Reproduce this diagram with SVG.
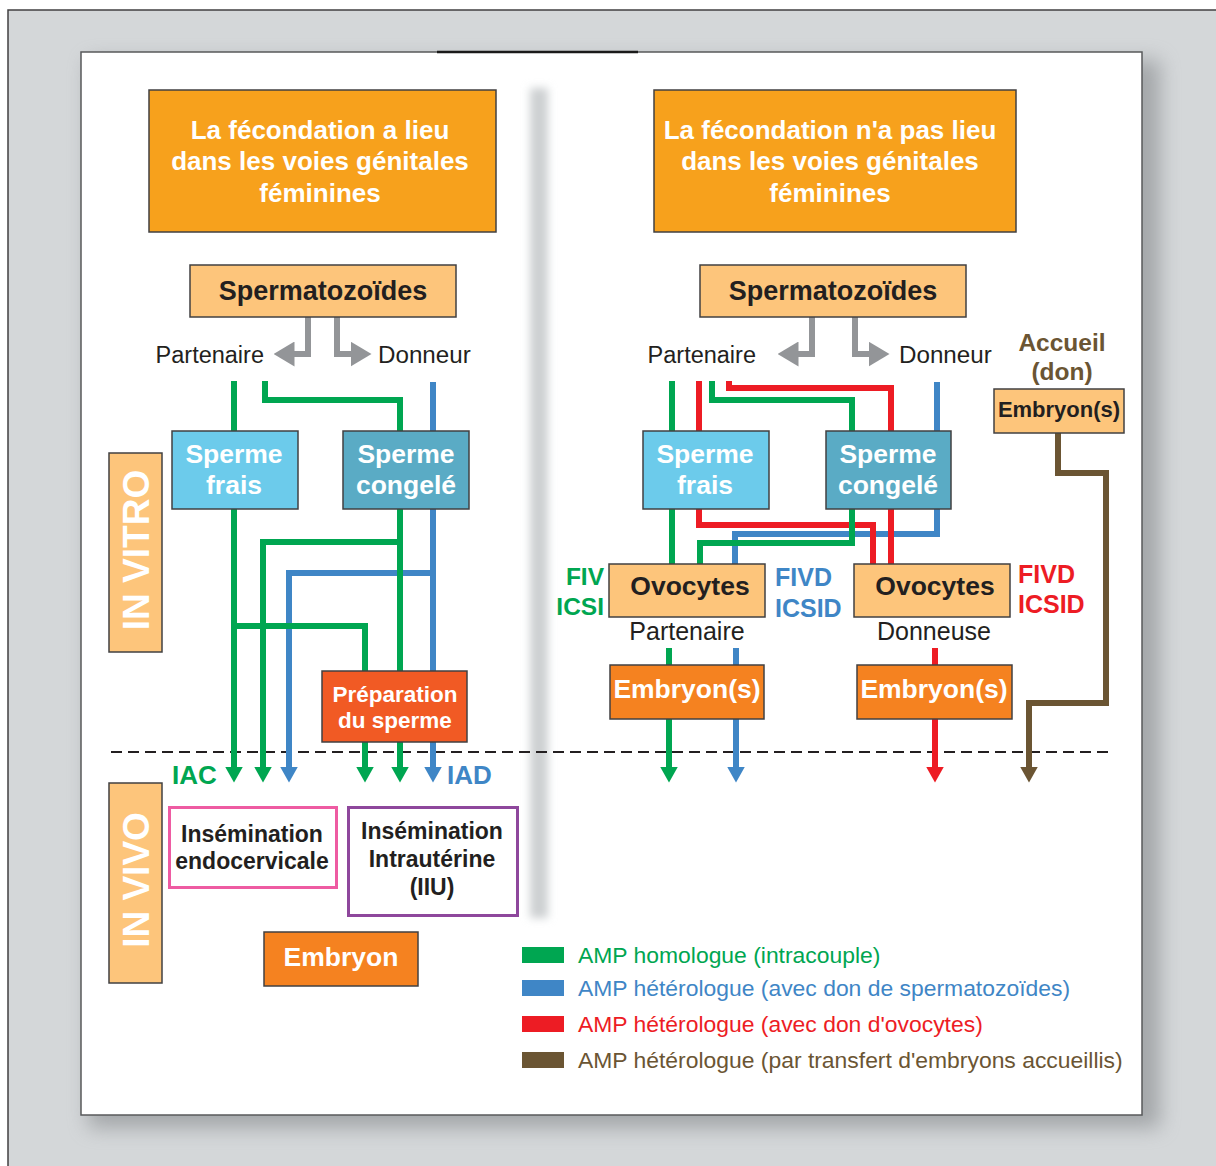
<svg xmlns="http://www.w3.org/2000/svg" width="1216" height="1166" viewBox="0 0 1216 1166">
<defs>
<style>
.t{font-family:"Liberation Sans",Arial,Helvetica,sans-serif}
.b{font-weight:bold}
.w{fill:#ffffff}
.k{fill:#231f20}
.mid{text-anchor:middle}
.end{text-anchor:end}
.box{stroke:#414042;stroke-width:1.5}
.lo{fill:#fdc57b}
.ln{fill:none;stroke-width:6;stroke-linejoin:miter}
.g{stroke:#00a651}
.bl{stroke:#3f86c6}
.r{stroke:#ed1c24}
.br{stroke:#6b5533}
.gy{stroke:#939598}
</style>
<filter id="blur10" x="-10%" y="-10%" width="120%" height="120%"><feGaussianBlur stdDeviation="10"/></filter>
<filter id="blur3" x="-100%" y="-5%" width="300%" height="110%"><feGaussianBlur stdDeviation="4"/></filter>
<marker id="ag" viewBox="0 0 16 18" markerWidth="16" markerHeight="18" refX="0.5" refY="9" orient="auto" markerUnits="userSpaceOnUse"><path d="M0,0 L16,9 L0,18 z" fill="#00a651"/></marker>
<marker id="ab" viewBox="0 0 16 18" markerWidth="16" markerHeight="18" refX="0.5" refY="9" orient="auto" markerUnits="userSpaceOnUse"><path d="M0,0 L16,9 L0,18 z" fill="#3f86c6"/></marker>
<marker id="ar" viewBox="0 0 16 18" markerWidth="16" markerHeight="18" refX="0.5" refY="9" orient="auto" markerUnits="userSpaceOnUse"><path d="M0,0 L16,9 L0,18 z" fill="#ed1c24"/></marker>
<marker id="abr" viewBox="0 0 16 18" markerWidth="16" markerHeight="18" refX="0.5" refY="9" orient="auto" markerUnits="userSpaceOnUse"><path d="M0,0 L16,9 L0,18 z" fill="#6b5533"/></marker>
<marker id="agy" viewBox="0 0 21 25" markerWidth="21" markerHeight="25" refX="0.5" refY="12.5" orient="auto" markerUnits="userSpaceOnUse"><path d="M0,0 L21,12.5 L0,25 z" fill="#939598"/></marker>
</defs>

<!-- background -->
<rect x="8" y="10" width="1220" height="1170" fill="#d4d7d9" stroke="#414042" stroke-width="1.5"/>
<rect x="88" y="60" width="1072" height="1068" fill="#7d8083" opacity="0.55" filter="url(#blur10)"/>
<rect x="81" y="52" width="1061" height="1063" fill="#ffffff" stroke="#58595b" stroke-width="1.5"/>
<line x1="437" y1="52" x2="638" y2="52" stroke="#1a1a1a" stroke-width="2.5"/>
<rect x="530" y="88" width="18" height="830" fill="#cdd0d2" filter="url(#blur3)"/>

<!-- dashed separator in vitro / in vivo -->
<line x1="111" y1="752" x2="1108" y2="752" stroke="#231f20" stroke-width="2" stroke-dasharray="11 6"/>

<g id="connectors">
  <!-- gray split arrows -->
  <path class="ln gy" d="M308,317 V354 H294" marker-end="url(#agy)" stroke-width="5.5"/>
  <path class="ln gy" d="M337,317 V354 H351" marker-end="url(#agy)" stroke-width="5.5"/>
  <path class="ln gy" d="M812,317 V354 H798" marker-end="url(#agy)" stroke-width="5.5"/>
  <path class="ln gy" d="M855,317 V354 H869" marker-end="url(#agy)" stroke-width="5.5"/>

  <!-- left: blue -->
  <path class="ln bl" d="M433,382 V767" marker-end="url(#ab)"/>
  <path class="ln bl" d="M433,573 H289 V767" marker-end="url(#ab)"/>
  <!-- left: green -->
  <path class="ln g" d="M234,381 V767" marker-end="url(#ag)"/>
  <path class="ln g" d="M234,626 H365 V767" marker-end="url(#ag)"/>
  <path class="ln g" d="M265,381 V400 H400 V767" marker-end="url(#ag)"/>
  <path class="ln g" d="M400,542 H263 V767" marker-end="url(#ag)"/>

  <!-- right: blue -->
  <path class="ln bl" d="M937,382 V534 H735 V564"/>
  <path class="ln bl" d="M736,648 V665"/>
  <path class="ln bl" d="M736,719 V767" marker-end="url(#ab)"/>
  <!-- right: red -->
  <path class="ln r" d="M699,381 V525 H873 V564"/>
  <path class="ln r" d="M729,381 V388 H891 V564"/>
  <path class="ln r" d="M935,648 V665"/>
  <path class="ln r" d="M935,719 V767" marker-end="url(#ar)"/>
  <!-- right: green -->
  <path class="ln g" d="M672,381 V564"/>
  <path class="ln g" d="M712,381 V400 H852 V543 H700 V564"/>
  <path class="ln g" d="M669,648 V665"/>
  <path class="ln g" d="M669,719 V767" marker-end="url(#ag)"/>
  <!-- brown -->
  <path class="ln br" d="M1058,433 V473 H1106 V703 H1029 V767" marker-end="url(#abr)"/>
</g>

<!-- headers -->
<g id="header-left">
  <rect x="149" y="90" width="347" height="142" fill="#f7a11c" class="box"/>
  <text class="t b w mid" font-size="26" x="320"><tspan x="320" y="139">La fécondation a lieu</tspan><tspan x="320" y="170">dans les voies génitales</tspan><tspan x="320" y="202">féminines</tspan></text>
</g>
<g id="header-right">
  <rect x="654" y="90" width="362" height="142" fill="#f7a11c" class="box"/>
  <text class="t b w mid" font-size="26" x="830"><tspan x="830" y="139">La fécondation n'a pas lieu</tspan><tspan x="830" y="170">dans les voies génitales</tspan><tspan x="830" y="202">féminines</tspan></text>
</g>

<!-- left side -->
<g id="spz-left">
  <rect x="190" y="265" width="266" height="52" class="box lo"/>
  <text class="t b k mid" font-size="27" x="323" y="300">Spermatozoïdes</text>
</g>
<g id="lbl-part-left"><text class="t k end" font-size="23.5" x="264" y="363">Partenaire</text></g>
<g id="lbl-donn-left"><text class="t k" font-size="24.2" x="378" y="363">Donneur</text></g>

<g id="frais-left">
  <rect x="172" y="431" width="126" height="78" fill="#6ccbeb" class="box"/>
  <text class="t b w mid" font-size="26.5" x="234"><tspan x="234" y="463">Sperme</tspan><tspan x="234" y="494">frais</tspan></text>
</g>
<g id="congele-left">
  <rect x="343" y="431" width="126" height="78" fill="#5aabc5" class="box"/>
  <text class="t b w mid" font-size="26.5" x="406"><tspan x="406" y="463">Sperme</tspan><tspan x="406" y="494">congelé</tspan></text>
</g>
<g id="preparation">
  <rect x="322" y="671" width="145" height="71" fill="#f15a24" class="box"/>
  <text class="t b w mid" font-size="22.5" x="395"><tspan x="395" y="702">Préparation</tspan><tspan x="395" y="728">du sperme</tspan></text>
</g>

<g id="in-vitro">
  <rect x="109" y="453" width="53" height="199" class="box lo" stroke="#58595b"/>
  <text class="t b w mid" font-size="37" transform="translate(149,550) rotate(-90)" x="0" y="0">IN VITRO</text>
</g>
<g id="in-vivo">
  <rect x="109" y="783" width="53" height="200" class="box lo" stroke="#58595b"/>
  <text class="t b w mid" font-size="37" transform="translate(149,880) rotate(-90)" x="0" y="0">IN VIVO</text>
</g>

<g id="lbl-iac"><text class="t b" font-size="26" fill="#00a651" x="172" y="784">IAC</text></g>
<g id="lbl-iad"><text class="t b" font-size="26" fill="#3f86c6" x="447" y="784">IAD</text></g>

<g id="endocervicale">
  <rect x="169.5" y="807.5" width="167" height="80" fill="#ffffff" stroke="#ee5ba2" stroke-width="3"/>
  <text class="t b k mid" font-size="23" x="252"><tspan x="252" y="842">Insémination</tspan><tspan x="252" y="869">endocervicale</tspan></text>
</g>
<g id="iiu">
  <rect x="348.5" y="807.5" width="169" height="108" fill="#ffffff" stroke="#8e479c" stroke-width="3"/>
  <text class="t b k mid" font-size="23" x="432"><tspan x="432" y="839">Insémination</tspan><tspan x="432" y="867">Intrautérine</tspan><tspan x="432" y="895">(IIU)</tspan></text>
</g>
<g id="embryon">
  <rect x="264" y="932" width="154" height="54" fill="#f58220" class="box"/>
  <text class="t b w mid" font-size="26.5" x="341" y="966">Embryon</text>
</g>

<!-- right side -->
<g id="spz-right">
  <rect x="700" y="265" width="266" height="52" class="box lo"/>
  <text class="t b k mid" font-size="27" x="833" y="300">Spermatozoïdes</text>
</g>
<g id="lbl-part-right"><text class="t k end" font-size="23.5" x="756" y="363">Partenaire</text></g>
<g id="lbl-donn-right"><text class="t k" font-size="24.2" x="899" y="363">Donneur</text></g>

<g id="frais-right">
  <rect x="643" y="431" width="126" height="78" fill="#6ccbeb" class="box"/>
  <text class="t b w mid" font-size="26.5" x="705"><tspan x="705" y="463">Sperme</tspan><tspan x="705" y="494">frais</tspan></text>
</g>
<g id="congele-right">
  <rect x="826" y="431" width="125" height="78" fill="#5aabc5" class="box"/>
  <text class="t b w mid" font-size="26.5" x="888"><tspan x="888" y="463">Sperme</tspan><tspan x="888" y="494">congelé</tspan></text>
</g>

<g id="ovocytes-partenaire">
  <rect x="609" y="564" width="156" height="53" class="box lo"/>
  <text class="t b k mid" font-size="26.5" x="690" y="595">Ovocytes</text>
  <text class="t k mid" font-size="25" x="687" y="640">Partenaire</text>
</g>
<g id="ovocytes-donneuse">
  <rect x="854" y="564" width="156" height="53" class="box lo"/>
  <text class="t b k mid" font-size="26.5" x="935" y="595">Ovocytes</text>
  <text class="t k mid" font-size="25" x="934" y="640">Donneuse</text>
</g>

<g id="lbl-fiv">
  <text class="t b end" font-size="24.5" fill="#00a651"><tspan x="604" y="585">FIV</tspan><tspan x="604" y="615">ICSI</tspan></text>
</g>
<g id="lbl-fivd-blue">
  <text class="t b" font-size="25" fill="#3f86c6"><tspan x="775" y="586">FIVD</tspan><tspan x="775" y="617">ICSID</tspan></text>
</g>
<g id="lbl-fivd-red">
  <text class="t b" font-size="25" fill="#ed1c24"><tspan x="1018" y="583">FIVD</tspan><tspan x="1018" y="613">ICSID</tspan></text>
</g>

<g id="embryons-partenaire">
  <rect x="610" y="665" width="154" height="54" fill="#f58220" class="box"/>
  <text class="t b w mid" font-size="26.5" x="687" y="698">Embryon(s)</text>
</g>
<g id="embryons-donneuse">
  <rect x="857" y="665" width="155" height="54" fill="#f58220" class="box"/>
  <text class="t b w mid" font-size="26.5" x="934" y="698">Embryon(s)</text>
</g>

<g id="accueil">
  <text class="t b mid" font-size="24.5" fill="#6b5533"><tspan x="1062" y="351">Accueil</tspan><tspan x="1062" y="380">(don)</tspan></text>
  <rect x="994" y="389" width="130" height="44" class="box lo"/>
  <text class="t b k mid" font-size="22" x="1059" y="417">Embryon(s)</text>
</g>

<!-- legend -->
<g id="legend">
  <rect x="522" y="947" width="42" height="16" fill="#00a651"/>
  <text class="t" font-size="22.9" fill="#00a651" x="578" y="963">AMP homologue (intracouple)</text>
  <rect x="522" y="980" width="42" height="16" fill="#3f86c6"/>
  <text class="t" font-size="22.9" fill="#3f86c6" x="578" y="996">AMP hétérologue (avec don de spermatozoïdes)</text>
  <rect x="522" y="1016" width="42" height="16" fill="#ed1c24"/>
  <text class="t" font-size="22.9" fill="#ed1c24" x="578" y="1032">AMP hétérologue (avec don d'ovocytes)</text>
  <rect x="522" y="1052" width="42" height="16" fill="#6b5533"/>
  <text class="t" font-size="22.9" fill="#6b5533" x="578" y="1068">AMP hétérologue (par transfert d'embryons accueillis)</text>
</g>
</svg>
